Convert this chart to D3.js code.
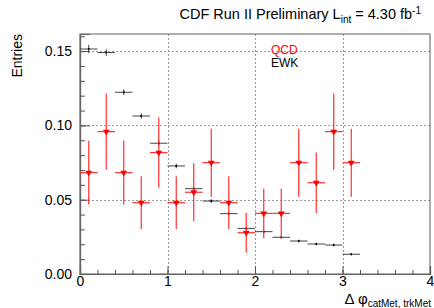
<!DOCTYPE html>
<html>
<head>
<meta charset="utf-8">
<script src="https://cdn.jsdelivr.net/npm/d3@7"></script>
<style>
body { margin: 0; background: #fff; }
text { font-family: "Liberation Sans", Arial, sans-serif; }
</style>
</head>
<body>
<svg id="chart" width="434" height="308"></svg>
<script>
// bin centres of the delta-phi histogram (bin width 0.2)
const binCenters = [0.1, 0.3, 0.5, 0.7, 0.9, 1.1, 1.3, 1.5, 1.7, 1.9, 2.1, 2.3, 2.5, 2.7, 2.9, 3.1];
const binHalf = 0.1;

const ewk = [0.1514, 0.149, 0.1223, 0.1063, 0.088, 0.0727, 0.0574, 0.0491, 0.0406, 0.0307, 0.0285, 0.0247, 0.0222, 0.0202, 0.0195, 0.0133];
const ewkErr = [0.0028, 0.0022, 0.002, 0.0018, 0.0017, 0.0016, 0.0014, 0.0013, 0.0012, 0.0011, 0.001, 0.001, 0.0009, 0.0009, 0.0009, 0.0008];

const qcd = [0.0682, 0.0958, 0.0682, 0.048, 0.0817, 0.048, 0.055, 0.0749, 0.048, 0.0278, 0.0408, 0.0408, 0.0749, 0.0614, 0.0958, 0.0749];
const qcdErr = [0.0215, 0.0256, 0.0215, 0.0177, 0.0236, 0.0177, 0.0195, 0.0229, 0.0177, 0.0135, 0.0165, 0.0165, 0.0229, 0.0204, 0.0256, 0.0229];

const yTicks = [0, 0.05, 0.10, 0.15];
const xTicks = [0, 1, 2, 3, 4];

const svg = d3.select("#chart");
const frame = { left: 80, right: 430, top: 34, bottom: 274 };

const x = d3.scaleLinear().domain([0, 4]).range([frame.left, frame.right]);
const y = d3.scaleLinear().domain([0, 0.1615]).range([frame.bottom, frame.top]);

// grid
const grid = svg.append("g")
	.attr("stroke", "#999")
	.attr("stroke-width", 1)
	.attr("stroke-dasharray", "2,2");
grid.selectAll("line.gx")
	.data(xTicks.filter((d) => d > 0 && d < 4))
	.join("line")
	.attr("x1", (d) => Math.round(x(d)) + 0.5)
	.attr("x2", (d) => Math.round(x(d)) + 0.5)
	.attr("y1", frame.top)
	.attr("y2", frame.bottom);
grid.selectAll("line.gy")
	.data(yTicks.filter((d) => d > 0))
	.join("line")
	.attr("x1", frame.left)
	.attr("x2", frame.right)
	.attr("y1", (d) => Math.round(y(d)) + 0.5)
	.attr("y2", (d) => Math.round(y(d)) + 0.5);

// frame
svg.append("rect")
	.attr("x", frame.left)
	.attr("y", frame.top)
	.attr("width", frame.right - frame.left)
	.attr("height", frame.bottom - frame.top)
	.attr("fill", "none")
	.attr("stroke", "#777")
	.attr("stroke-width", 1.2);

// axes, ticks pointing inwards
const xAxis = svg.append("g").attr("transform", `translate(0,${frame.bottom})`);
xAxis.call(d3.axisBottom(x).tickValues(xTicks).tickSize(-8).tickPadding(2).tickFormat(d3.format("d")));
xAxis.append("g").call(d3.axisBottom(x).tickValues(d3.range(0, 4.01, 0.2)).tickSize(-4).tickFormat(""));

const yAxis = svg.append("g").attr("transform", `translate(${frame.left},0)`);
yAxis.call(d3.axisLeft(y).tickValues(yTicks).tickSize(-10).tickPadding(8).tickFormat(d3.format(".2f")));
yAxis.append("g").call(d3.axisLeft(y).tickValues(d3.range(0, 0.161, 0.01)).tickSize(-5).tickFormat(""));

svg.selectAll(".domain").attr("stroke", "#666").attr("stroke-width", 1.2);
svg.selectAll(".tick line").attr("stroke", "#555");
svg.selectAll(".tick text").attr("font-size", 14).attr("fill", "#000")
	.style("font-family", '"Liberation Sans", Arial, sans-serif');

// EWK points (black)
const ewkG = svg.append("g").attr("stroke", "#444").attr("stroke-width", 1);
binCenters.forEach((c, i) => {
	ewkG.append("line")
		.attr("x1", x(c - binHalf)).attr("x2", x(c + binHalf))
		.attr("y1", y(ewk[i])).attr("y2", y(ewk[i]));
	ewkG.append("line")
		.attr("x1", x(c)).attr("x2", x(c))
		.attr("y1", y(ewk[i] - ewkErr[i])).attr("y2", y(ewk[i] + ewkErr[i]));
	ewkG.append("circle")
		.attr("cx", x(c)).attr("cy", y(ewk[i])).attr("r", 1)
		.attr("fill", "#000").attr("stroke", "none");
});

// QCD points (red, down triangles)
const qcdG = svg.append("g").attr("stroke", "#ff3030").attr("stroke-width", 1.2);
const tri = d3.symbol().type(d3.symbolTriangle).size(20);
binCenters.forEach((c, i) => {
	qcdG.append("line")
		.attr("x1", x(c - binHalf)).attr("x2", x(c + binHalf))
		.attr("y1", y(qcd[i])).attr("y2", y(qcd[i]));
	qcdG.append("line")
		.attr("x1", x(c)).attr("x2", x(c))
		.attr("y1", y(qcd[i] - qcdErr[i])).attr("y2", y(qcd[i] + qcdErr[i]));
	qcdG.append("path")
		.attr("d", tri)
		.attr("transform", `translate(${x(c)},${y(qcd[i])}) rotate(180)`)
		.attr("fill", "#ff0000").attr("stroke", "none");
});

// legend
svg.append("text").attr("x", 271).attr("y", 54).attr("font-size", 12).attr("fill", "#ff0000").text("QCD");
svg.append("text").attr("x", 271).attr("y", 67).attr("font-size", 12).attr("fill", "#000").text("EWK");

// title
const title = svg.append("text").attr("x", 421).attr("y", 19).attr("text-anchor", "end").attr("font-size", 14.5);
title.append("tspan").text("CDF Run II Preliminary L");
title.append("tspan").attr("font-size", 10).attr("dy", 4).text("int");
title.append("tspan").attr("dy", -4).text(" = 4.30 fb");
title.append("tspan").attr("font-size", 10).attr("dy", -5).text("-1");

// y label
svg.append("text")
	.attr("transform", "translate(22,34) rotate(-90)")
	.attr("text-anchor", "end")
	.attr("font-size", 14)
	.text("Entries");

// x label
const xl = svg.append("text").attr("x", 431).attr("y", 304).attr("text-anchor", "end").attr("font-size", 15);
xl.append("tspan").text("\u0394 \u03c6");
xl.append("tspan").attr("font-size", 10).attr("dy", 3).text("catMet, trkMet");
</script>
</body>
</html>
